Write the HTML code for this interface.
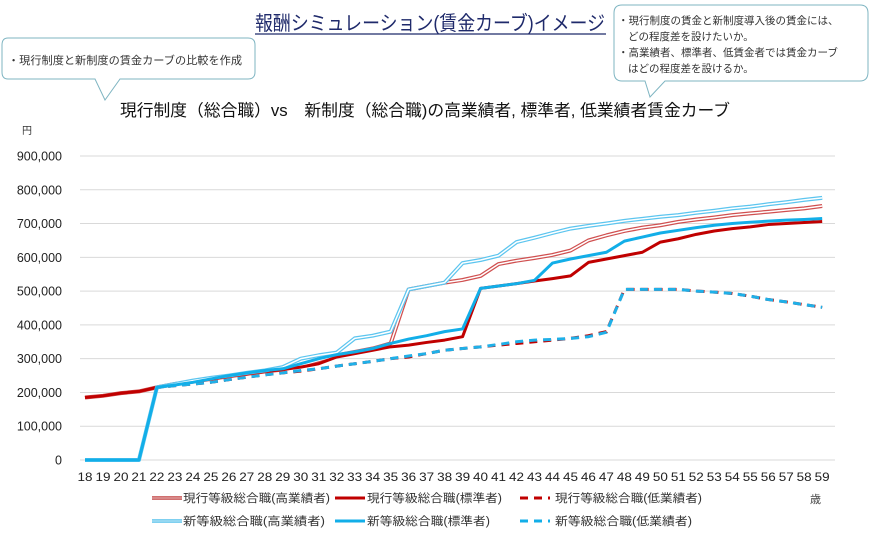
<!DOCTYPE html>
<html><head><meta charset="utf-8"><style>
body{margin:0;width:872px;height:541px;background:#fff;overflow:hidden;font-family:"Liberation Sans","Noto Sans CJK JP",sans-serif}
svg text{font-family:"Liberation Sans","Noto Sans CJK JP",sans-serif}
</style></head><body>
<svg id="s" width="872" height="541" xmlns="http://www.w3.org/2000/svg">
<text x="255" y="30" font-size="20" fill="#1f2a6b" textLength="350" lengthAdjust="spacingAndGlyphs">報酬シミュレーション(賃金カーブ)イメージ</text>
<line x1="255" y1="34" x2="606" y2="34" stroke="#1f2a6b" stroke-width="1.2"/>
<path d="M8,38 H248 Q255,38 255,45 V72 Q255,79 248,79 H120 L105,100 L95,79 H8 Q2,79 2,72 V45 Q2,38 8,38 Z" fill="#fff" stroke="#7fb5c2" stroke-width="1"/>
<text x="8" y="64" font-size="11" fill="#333" textLength="234" lengthAdjust="spacingAndGlyphs">・現行制度と新制度の賃金カーブの比較を作成</text>
<path d="M622,5 H860 Q868,5 868,13 V72 Q868,81 860,81 H665 L650,97 L645,81 H622 Q614,81 614,72 V13 Q614,5 622,5 Z" fill="#fff" stroke="#7fb5c2" stroke-width="1"/>
<text font-size="10.5" fill="#333"><tspan x="618" y="24">・現行制度の賃金と新制度導入後の賃金には、</tspan><tspan x="628" y="40">どの程度差を設けたいか。</tspan><tspan x="618" y="56">・高業績者、標準者、低賃金者では賃金カーブ</tspan><tspan x="628" y="72">はどの程度差を設けるか。</tspan></text>
<text x="120" y="116" font-size="16.5" fill="#111" textLength="610" lengthAdjust="spacingAndGlyphs">現行制度（総合職）vs　新制度（総合職)の高業績者, 標準者, 低業績者賃金カーブ</text>
<text x="22" y="134" font-size="10" fill="#333">円</text>
<g id="g"></g>
<text x="810" y="503" font-size="11" fill="#444">歳</text>
</svg>
<script>
var s=document.getElementById('g'),h='';
function Y(v){return 460-v*0.3378;}
function X(a){return 85+(a-18)*17.98;}
for(var i=0;i<=9;i++){var y=Y(i*100);h+='<line x1="80" x2="835" y1="'+y+'" y2="'+y+'" stroke="#d9d9d9" stroke-width="1"/>';
h+='<text x="62" y="'+(y+4.5)+'" font-size="12.5" text-anchor="end" fill="#222">'+(i==0?'0':(i*100)+',000')+'</text>';}
for(var a=18;a<=59;a++)h+='<text x="'+X(a)+'" y="481" font-size="12" text-anchor="middle" fill="#222" textLength="15" lengthAdjust="spacingAndGlyphs">'+a+'</text>';
function pts(d,st){var p=[];for(var i=0;i<d.length;i++)p.push(X(st+i)+','+Y(d[i]));return p.join(' ');}
var ch=[185,190,198,203,215,225,232,240,248,255,262,268,280,295,310,320,330,345,505,515,525,533,545,580,590,598,607,620,650,665,678,688,695,705,712,718,725,730,735,740,745,752];
var cs=[185,190,198,203,215,225,232,240,248,255,262,268,275,285,305,315,325,335,340,348,355,365,508,515,522,530,537,545,585,595,605,615,645,655,668,678,685,690,697,700,703,706];
var cl=[185,190,198,203,215,220,225,230,238,245,252,258,263,270,278,285,292,300,305,315,325,330,335,340,345,350,355,360,368,380,505,505,505,505,500,497,493,485,475,468,460,452];
var nh=[0,0,0,0,215,225,235,243,250,258,265,275,300,310,318,360,368,380,505,515,525,583,592,605,645,658,672,685,693,700,708,714,720,725,732,738,745,750,757,763,770,776];
var ns=[0,0,0,0,215,222,230,240,250,258,265,270,285,300,312,320,330,345,358,368,380,388,508,515,522,532,583,595,605,615,648,660,672,680,688,695,700,704,707,710,712,715];
var nl=[0,0,0,0,215,220,225,230,238,245,252,258,265,270,278,285,292,300,308,315,325,330,335,342,350,355,357,360,365,378,505,505,505,505,500,497,493,485,475,468,460,452];
function pl(d,c,w,da){return '<polyline points="'+pts(d,18)+'" fill="none" stroke="'+c+'" stroke-width="'+w+'" stroke-linejoin="round"'+(da?' stroke-dasharray="'+da+'"':'')+'/>';}
h+=pl(cl,'#c00000',3,'8,6');
h+=pl(nl,'#1fb0e8',3,'8,6');
h+=pl(ch,'#d05050',4)+pl(ch,'#fff',1.5);
h+=pl(cs,'#c00000',3);
h+=pl(nh,'#5cc5ef',4)+pl(nh,'#fff',1.5);
h+=pl(ns,'#12aee8',3);
function lg(x,y,c,t,type,tx,tw){var r='';if(type=='d'){r+='<line x1="'+x+'" x2="'+(x+30)+'" y1="'+y+'" y2="'+y+'" stroke="'+c+'" stroke-width="3" stroke-dasharray="8,6"/>';}
else{r+='<line x1="'+x+'" x2="'+(x+30)+'" y1="'+y+'" y2="'+y+'" stroke="'+c+'" stroke-width="'+(type=='h'?4:3)+'"/>';if(type=='h')r+='<line x1="'+x+'" x2="'+(x+30)+'" y1="'+y+'" y2="'+y+'" stroke="rgba(255,255,255,0.35)" stroke-width="1"/>';}
r+='<text x="'+tx+'" y="'+(y+4)+'" font-size="11.5" fill="#333" textLength="'+tw+'" lengthAdjust="spacingAndGlyphs">'+t+'</text>';return r;}
h+=lg(152,498,'#d07070','現行等級総合職(高業績者)','h',183,147);
h+=lg(335,498,'#c00000','現行等級総合職(標準者)','s',367,135);
h+=lg(520,498,'#c00000','現行等級総合職(低業績者)','d',555,147);
h+=lg(152,521,'#7fd0f0','新等級総合職(高業績者)','h',183,142);
h+=lg(335,521,'#12aee8','新等級総合職(標準者)','s',367,123);
h+=lg(520,521,'#12aee8','新等級総合職(低業績者)','d',555,137);
s.innerHTML=h;
</script>
</body></html>
